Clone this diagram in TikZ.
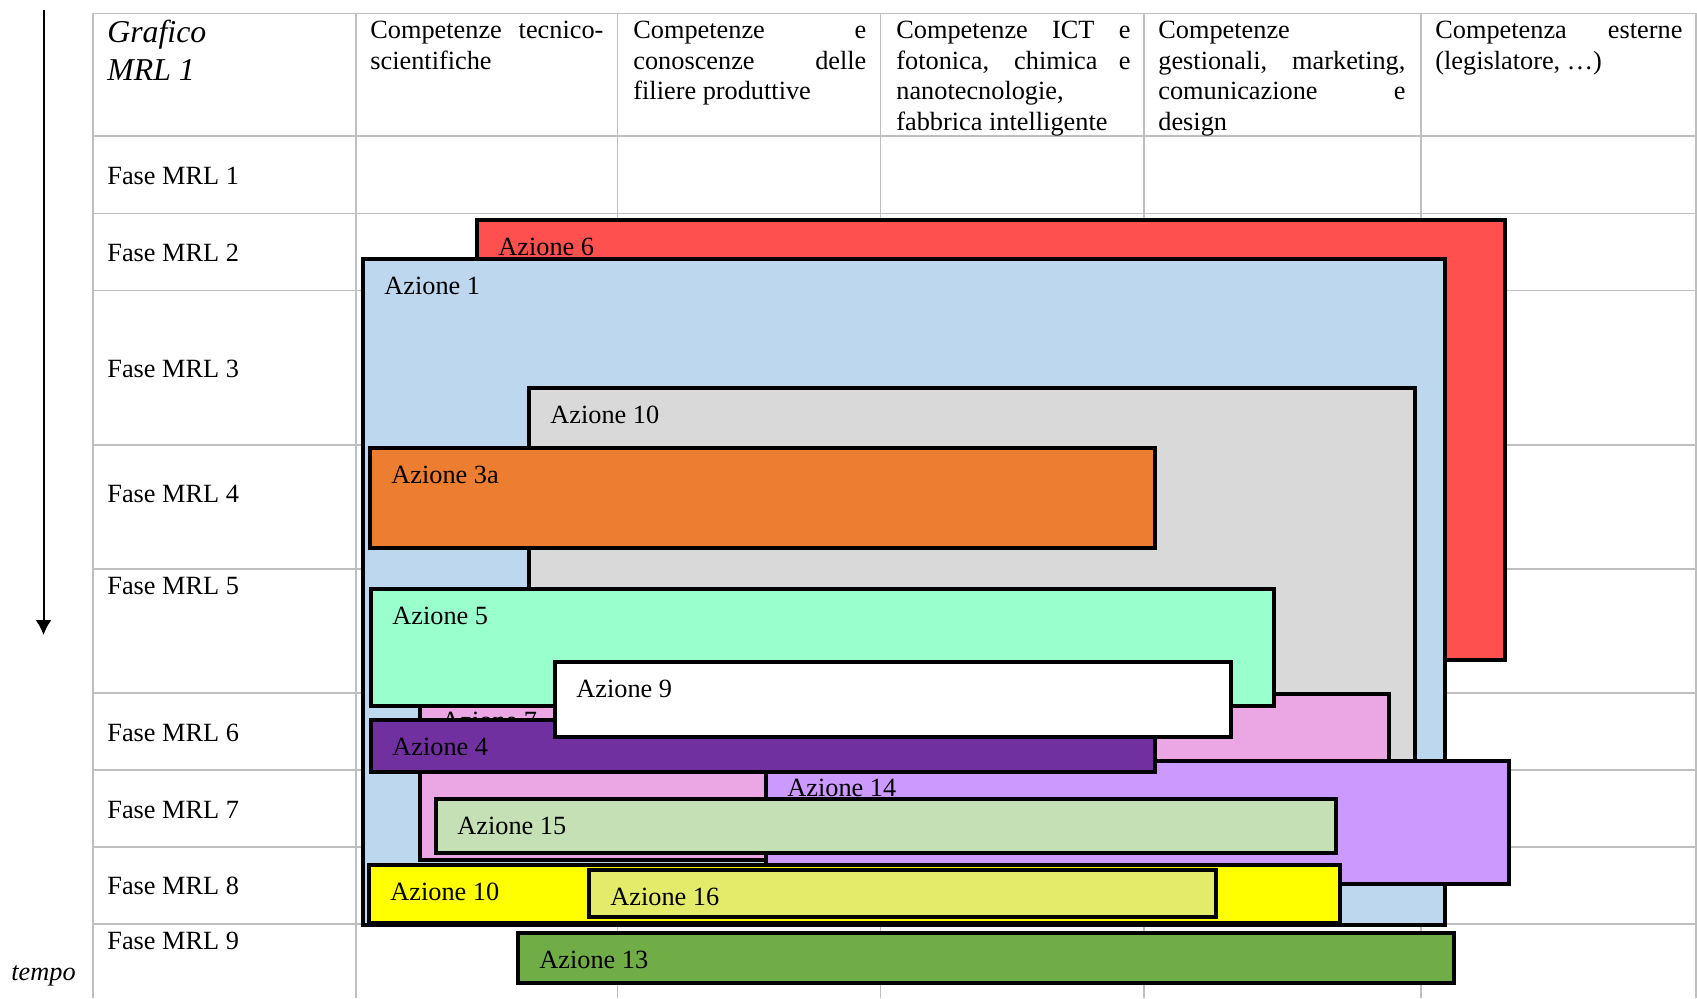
\documentclass[tikz,border=0pt]{standalone}
\usepackage{fontspec}
\setmainfont{Liberation Serif}
\usetikzlibrary{arrows.meta}
\definecolor{gridgray}{HTML}{BFBFBF}
\definecolor{cRed}{HTML}{FF5050}
\definecolor{cBlue}{HTML}{BDD7EE}
\definecolor{cGray}{HTML}{D9D9D9}
\definecolor{cOrange}{HTML}{ED7D31}
\definecolor{cPink}{HTML}{EBA7E4}
\definecolor{cMint}{HTML}{99FFCC}
\definecolor{cLav}{HTML}{CC99FF}
\definecolor{cPurple}{HTML}{7030A0}
\definecolor{cLGreen}{HTML}{C5E0B4}
\definecolor{cYellow}{HTML}{FFFF00}
\definecolor{cYG}{HTML}{E4EB6A}
\definecolor{cGreen}{HTML}{70AD47}
\newcommand\bodyfont{\fontsize{13.15}{15.3}\selectfont}
\newcommand\jl[1]{\makebox[\linewidth][s]{#1}}
\tikzset{
  gridline/.style={draw=gridgray, line width=0.8pt},
  boxline/.style={draw=black, line width=2pt},
  lbl/.style={anchor=base west, inner sep=0pt, font=\bodyfont},
  hdr/.style={anchor=base west, inner sep=0pt, font=\bodyfont},
  timearrow/.style={draw=black, line width=1pt, -{Latex[length=7.5pt,width=8pt]}},
}
% #1 name, #2 colour, #3 x1, #4 y1, #5 x2, #6 y2, #7 label
\newcommand\azbox[7]{%
  \draw[boxline, fill=#2] ({#3+2},{#4+2}) rectangle ({#5-2},{#6-2});
  \node[lbl] (#1) at ({#3+23},{#4+37}) {#7};
}
\begin{document}
\begin{tikzpicture}[x=0.5pt,y=-0.5pt]
\useasboundingbox (0,0) rectangle (1697,998);
% table grid
\foreach \yy in {13.3,135.7,213.3,290.5,445,568.7,692.7,770,846.7,923.8}
  \draw[gridline] (93,\yy) -- (1696,\yy);
\foreach \xx in {93,356,617.5,880.6,1143.7,1420.8,1696}
  \draw[gridline] (\xx,13.3) -- (\xx,998);
% header
\node[anchor=base west, inner sep=0pt, font=\fontsize{15.9}{19}\selectfont\itshape] (title) at (107,42.5) {\parbox[t]{110pt}{Grafico\\MRL 1}};
\node[hdr] (h1) at (370,38.5) {\parbox[t]{116.5pt}{\jl{Competenze tecnico-}\\scientifiche}};
\node[hdr] (h2) at (633,38.5) {\parbox[t]{116.5pt}{\jl{Competenze e}\\\jl{conoscenze delle}\\filiere produttive}};
\node[hdr] (h3) at (896,38.5) {\parbox[t]{117pt}{\jl{Competenze ICT e}\\\jl{fotonica, chimica e}\\nanotecnologie,\\fabbrica intelligente}};
\node[hdr] (h4) at (1158,38.5) {\parbox[t]{123.5pt}{Competenze\\\jl{gestionali, marketing,}\\\jl{comunicazione e}\\design}};
\node[hdr] (h5) at (1435,38.5) {\parbox[t]{123.5pt}{\jl{Competenza esterne}\\(legislatore, \dots)}};
% row labels
\node[lbl] (r1) at (107,184.5) {Fase MRL 1};
\node[lbl] (r2) at (107,261.5) {Fase MRL 2};
\node[lbl] (r3) at (107,377.5) {Fase MRL 3};
\node[lbl] (r4) at (107,502) {Fase MRL 4};
\node[lbl] (r5) at (107,594.5) {Fase MRL 5};
\node[lbl] (r6) at (107,741.5) {Fase MRL 6};
\node[lbl] (r7) at (107,818) {Fase MRL 7};
\node[lbl] (r8) at (107,894.5) {Fase MRL 8};
\node[lbl] (r9) at (107,949.5) {Fase MRL 9};
% time arrow
\coordinate (tstart) at (43.5,10);
\coordinate (tend) at (43.5,635);
\draw[timearrow] (tstart) -- (tend);
\node[lbl, font=\bodyfont\itshape] (tempo) at (11,980) {tempo};
% action boxes
\azbox{a6}{cRed}{475}{218}{1507}{662}{Azione 6}
\azbox{a1}{cBlue}{361}{257}{1447}{927}{Azione 1}
\azbox{a10g}{cGray}{527}{386}{1417}{840}{Azione 10}
\azbox{a3a}{cOrange}{368}{446}{1157}{549.5}{Azione 3a}
\azbox{a7}{cPink}{418}{692}{1391}{862}{Azione 7}
\azbox{a5}{cMint}{369}{587}{1276}{708}{Azione 5}
\azbox{a14}{cLav}{764}{759}{1511}{886}{Azione 14}
\azbox{a4}{cPurple}{369}{718}{1157}{773.5}{Azione 4}
\azbox{a9}{white}{553}{660}{1233}{738.5}{Azione 9}
\azbox{a15}{cLGreen}{434}{797}{1338}{854.5}{Azione 15}
\azbox{a10y}{cYellow}{367}{863}{1342}{925}{Azione 10}
\azbox{a16}{cYG}{587}{868}{1218}{918.5}{Azione 16}
\azbox{a13}{cGreen}{516}{931}{1456}{985}{Azione 13}
\end{tikzpicture}
\end{document}
